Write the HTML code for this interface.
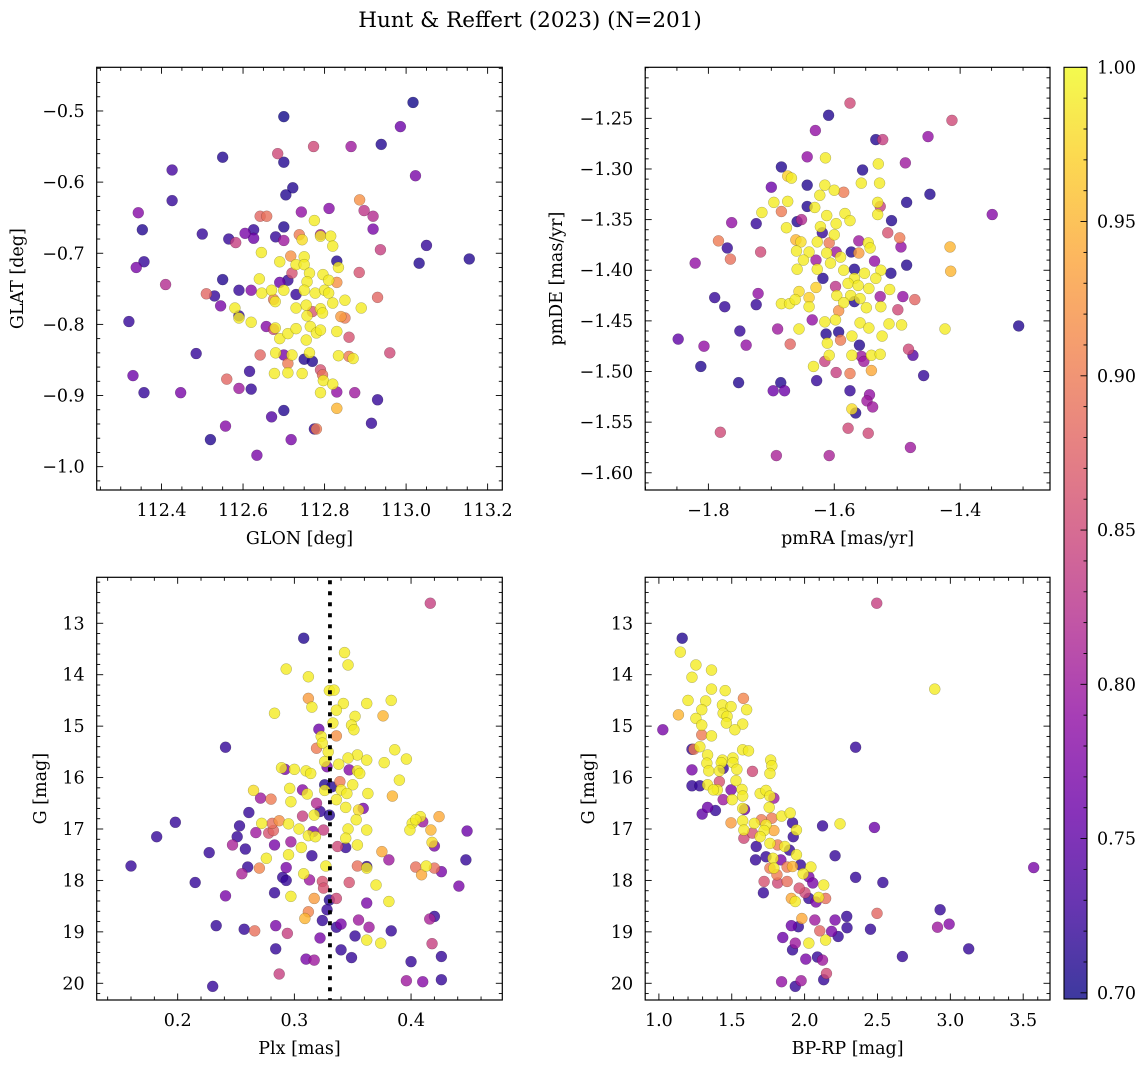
<!DOCTYPE html>
<html><head><meta charset="utf-8"><style>
html,body{margin:0;padding:0;background:#fff;}
svg{display:block;font-family:"DejaVu Serif","Liberation Serif",serif;}
</style></head><body>
<svg id="fig" width="1148" height="1067" viewBox="0 0 1148 1067" xmlns="http://www.w3.org/2000/svg">
<text x="530" y="27" text-anchor="middle" font-size="21.5">Hunt &amp; Reffert (2023) (N=201)</text>
</svg>
<script>
// ---- Panel A: GLON vs GLAT ----
const glonA=[113.017,112.70,112.986,112.939,112.773,112.865,112.685,112.55,112.70,112.426,113.023,112.722,112.705,112.426,112.886,112.811,112.343,112.743,112.897,112.919,112.642,112.658,112.775,112.353,112.919,112.50,112.70,112.605,112.626,112.626,112.565,112.582,112.68,112.70,112.738,112.745,112.79,112.79,112.815,112.82,113.05,113.155,113.032,112.937,112.357,112.338,112.41,112.645,112.69,112.717,112.75,112.73,112.75,112.83,112.834,112.72,112.885,112.55,112.64,112.763,112.796,112.69,112.71,112.757,112.81,112.83,112.59,112.62,112.51,112.53,112.545,112.646,112.67,112.70,112.675,112.679,112.73,112.75,112.777,112.80,112.81,112.93,112.82,112.85,112.89,112.58,112.59,112.59,112.32,112.62,112.73,112.755,112.77,112.79,112.795,112.757,112.85,112.84,112.657,112.675,112.679,112.69,112.71,112.73,112.765,112.78,112.79,112.755,112.83,112.86,112.96,112.485,112.642,112.68,112.70,112.71,112.72,112.75,112.77,112.763,112.834,112.86,112.87,112.33,112.56,112.616,112.677,112.71,112.745,112.79,112.795,112.797,112.82,112.357,112.447,112.59,112.62,112.79,112.83,112.874,112.93,112.83,112.70,112.67,112.915,112.557,112.775,112.78,112.52,112.718,112.634];
const glatA=[-0.488,-0.508,-0.522,-0.547,-0.550,-0.550,-0.560,-0.565,-0.572,-0.583,-0.591,-0.608,-0.618,-0.626,-0.625,-0.637,-0.643,-0.642,-0.640,-0.648,-0.648,-0.648,-0.654,-0.667,-0.666,-0.673,-0.663,-0.672,-0.667,-0.679,-0.680,-0.685,-0.677,-0.682,-0.674,-0.681,-0.674,-0.676,-0.676,-0.69,-0.689,-0.708,-0.714,-0.695,-0.712,-0.720,-0.744,-0.699,-0.712,-0.704,-0.705,-0.716,-0.716,-0.711,-0.720,-0.728,-0.727,-0.737,-0.736,-0.728,-0.73,-0.741,-0.738,-0.74,-0.738,-0.741,-0.752,-0.752,-0.757,-0.760,-0.774,-0.756,-0.752,-0.752,-0.765,-0.768,-0.758,-0.752,-0.756,-0.752,-0.756,-0.762,-0.77,-0.766,-0.777,-0.777,-0.791,-0.788,-0.796,-0.797,-0.777,-0.773,-0.782,-0.778,-0.784,-0.788,-0.791,-0.789,-0.803,-0.807,-0.805,-0.82,-0.813,-0.806,-0.803,-0.812,-0.808,-0.822,-0.81,-0.818,-0.840,-0.841,-0.843,-0.84,-0.843,-0.855,-0.843,-0.849,-0.852,-0.84,-0.844,-0.845,-0.848,-0.872,-0.877,-0.866,-0.869,-0.868,-0.869,-0.864,-0.871,-0.879,-0.884,-0.896,-0.896,-0.89,-0.891,-0.896,-0.895,-0.896,-0.906,-0.918,-0.921,-0.930,-0.939,-0.943,-0.947,-0.947,-0.962,-0.962,-0.984];
const probA=[0.70,0.70,0.76,0.71,0.85,0.80,0.85,0.71,0.71,0.73,0.77,0.71,0.71,0.72,0.92,0.78,0.78,0.79,0.83,0.82,0.88,0.89,0.99,0.71,0.77,0.72,0.71,0.77,0.72,0.76,0.72,0.84,0.72,0.80,0.9,0.98,0.8,0.99,0.99,0.99,0.72,0.71,0.71,0.84,0.72,0.77,0.82,0.99,0.99,0.92,0.99,0.99,0.99,0.71,0.99,0.86,0.86,0.71,0.99,0.99,0.99,0.76,0.72,0.99,0.99,0.92,0.72,0.78,0.88,0.72,0.77,0.99,0.99,0.99,0.9,0.99,0.72,0.99,0.99,0.99,0.99,0.88,0.99,0.99,0.99,0.99,0.99,0.72,0.72,0.99,0.99,0.99,0.86,0.99,0.99,0.99,0.9,0.93,0.78,0.85,0.99,0.99,0.99,0.99,0.99,0.99,0.99,0.99,0.99,0.86,0.85,0.72,0.88,0.99,0.77,0.9,0.99,0.71,0.71,0.99,0.99,0.9,0.99,0.76,0.88,0.72,0.99,0.99,0.99,0.86,0.89,0.99,0.99,0.72,0.77,0.8,0.72,0.99,0.79,0.8,0.72,0.95,0.71,0.74,0.72,0.78,0.72,0.9,0.71,0.77,0.77];
// ---- Panel B: pmRA vs pmDE ----
const pmraB=[-1.575,-1.609,-1.63,-1.413,-1.534,-1.523,-1.451,-1.643,-1.614,-1.684,-1.555,-1.530,-1.487,-1.674,-1.668,-1.70,-1.643,-1.615,-1.623,-1.60,-1.585,-1.557,-1.528,-1.448,-1.485,-1.696,-1.674,-1.715,-1.684,-1.643,-1.631,-1.612,-1.583,-1.531,-1.527,-1.531,-1.349,-1.763,-1.724,-1.659,-1.652,-1.676,-1.622,-1.597,-1.575,-1.509,-1.619,-1.60,-1.515,-1.784,-1.661,-1.653,-1.627,-1.608,-1.561,-1.546,-1.496,-1.494,-1.416,-1.770,-1.717,-1.66,-1.64,-1.612,-1.597,-1.573,-1.561,-1.543,-1.765,-1.821,-1.649,-1.629,-1.606,-1.59,-1.536,-1.485,-1.659,-1.627,-1.585,-1.568,-1.552,-1.526,-1.51,-1.415,-1.618,-1.568,-1.534,-1.598,-1.578,-1.562,-1.629,-1.656,-1.721,-1.545,-1.512,-1.79,-1.684,-1.671,-1.662,-1.64,-1.64,-1.596,-1.574,-1.568,-1.559,-1.527,-1.491,-1.472,-1.774,-1.724,-1.585,-1.549,-1.526,-1.499,-1.593,-1.598,-1.635,-1.615,-1.559,-1.545,-1.513,-1.493,-1.424,-1.307,-1.75,-1.69,-1.656,-1.613,-1.593,-1.59,-1.572,-1.524,-1.848,-1.807,-1.74,-1.67,-1.611,-1.56,-1.482,-1.475,-1.608,-1.572,-1.557,-1.541,-1.527,-1.615,-1.633,-1.553,-1.541,-1.812,-1.458,-1.597,-1.575,-1.752,-1.628,-1.685,-1.697,-1.679,-1.575,-1.544,-1.548,-1.539,-1.566,-1.572,-1.781,-1.578,-1.546,-1.479,-1.692,-1.608];
const pmdeB=[-1.235,-1.247,-1.262,-1.252,-1.271,-1.271,-1.268,-1.288,-1.289,-1.298,-1.301,-1.295,-1.294,-1.307,-1.309,-1.318,-1.316,-1.316,-1.326,-1.321,-1.323,-1.314,-1.314,-1.325,-1.333,-1.333,-1.332,-1.343,-1.342,-1.337,-1.338,-1.346,-1.344,-1.333,-1.337,-1.345,-1.345,-1.353,-1.354,-1.352,-1.350,-1.358,-1.357,-1.354,-1.351,-1.351,-1.363,-1.365,-1.363,-1.371,-1.37,-1.372,-1.372,-1.373,-1.371,-1.373,-1.368,-1.377,-1.377,-1.378,-1.382,-1.381,-1.382,-1.383,-1.382,-1.382,-1.383,-1.378,-1.389,-1.393,-1.39,-1.39,-1.393,-1.387,-1.391,-1.395,-1.399,-1.399,-1.4,-1.399,-1.403,-1.4,-1.403,-1.401,-1.408,-1.408,-1.408,-1.416,-1.413,-1.415,-1.417,-1.421,-1.423,-1.418,-1.419,-1.427,-1.433,-1.433,-1.429,-1.427,-1.436,-1.425,-1.425,-1.431,-1.428,-1.426,-1.426,-1.429,-1.436,-1.434,-1.432,-1.437,-1.436,-1.439,-1.44,-1.449,-1.449,-1.451,-1.452,-1.457,-1.453,-1.454,-1.458,-1.455,-1.46,-1.458,-1.458,-1.463,-1.461,-1.469,-1.465,-1.465,-1.468,-1.475,-1.474,-1.473,-1.472,-1.474,-1.478,-1.484,-1.484,-1.484,-1.485,-1.484,-1.483,-1.49,-1.495,-1.49,-1.499,-1.495,-1.504,-1.501,-1.502,-1.511,-1.509,-1.511,-1.519,-1.519,-1.519,-1.523,-1.529,-1.535,-1.541,-1.537,-1.56,-1.556,-1.561,-1.575,-1.583,-1.583];
const probB=[0.85,0.71,0.79,0.85,0.71,0.84,0.79,0.79,0.99,0.71,0.71,0.99,0.8,0.97,0.99,0.76,0.71,0.99,0.99,0.99,0.9,0.99,0.99,0.71,0.71,0.99,0.99,0.99,0.9,0.71,0.99,0.99,0.99,0.99,0.84,0.99,0.78,0.79,0.72,0.71,0.82,0.99,0.99,0.99,0.99,0.71,0.72,0.99,0.86,0.9,0.95,0.98,0.99,0.9,0.8,0.99,0.9,0.79,0.95,0.72,0.85,0.99,0.99,0.99,0.8,0.71,0.93,0.99,0.89,0.79,0.99,0.8,0.99,0.99,0.79,0.71,0.99,0.99,0.99,0.71,0.99,0.99,0.71,0.95,0.71,0.99,0.99,0.83,0.99,0.99,0.97,0.98,0.79,0.99,0.99,0.72,0.99,0.99,0.99,0.97,0.99,0.99,0.99,0.71,0.99,0.8,0.79,0.88,0.72,0.72,0.99,0.99,0.99,0.85,0.92,0.99,0.79,0.99,0.99,0.99,0.99,0.99,0.99,0.71,0.72,0.8,0.99,0.71,0.71,0.9,0.99,0.99,0.75,0.79,0.79,0.88,0.99,0.71,0.85,0.74,0.99,0.99,0.8,0.99,0.99,0.84,0.99,0.8,0.94,0.71,0.72,0.84,0.9,0.71,0.72,0.71,0.76,0.76,0.72,0.79,0.8,0.8,0.71,0.98,0.85,0.85,0.85,0.8,0.81,0.81];
// ---- Panel C: Plx vs G ----
const plxC=[0.4165,0.308,0.343,0.346,0.293,0.312,0.33,0.334,0.312,0.383,0.342,0.362,0.315,0.336,0.352,0.376,0.283,0.333,0.349,0.351,0.321,0.336,0.323,0.241,0.319,0.324,0.329,0.386,0.354,0.346,0.362,0.396,0.338,0.377,0.326,0.328,0.289,0.292,0.30,0.31,0.314,0.347,0.354,0.356,0.39,0.339,0.35,0.326,0.332,0.296,0.307,0.326,0.34,0.345,0.363,0.265,0.311,0.384,0.271,0.28,0.297,0.336,0.319,0.344,0.359,0.355,0.261,0.322,0.33,0.317,0.307,0.424,0.408,0.353,0.401,0.41,0.404,0.253,0.198,0.287,0.281,0.272,0.295,0.304,0.346,0.362,0.399,0.417,0.448,0.267,0.278,0.282,0.316,0.325,0.182,0.251,0.312,0.318,0.344,0.247,0.283,0.297,0.337,0.344,0.354,0.418,0.42,0.306,0.258,0.227,0.375,0.295,0.315,0.276,0.16,0.381,0.447,0.26,0.27,0.293,0.327,0.354,0.362,0.362,0.404,0.413,0.42,0.426,0.409,0.255,0.308,0.29,0.293,0.313,0.324,0.347,0.215,0.325,0.37,0.441,0.283,0.241,0.297,0.317,0.336,0.362,0.381,0.33,0.328,0.312,0.309,0.324,0.42,0.416,0.355,0.34,0.336,0.364,0.233,0.284,0.257,0.266,0.294,0.383,0.352,0.322,0.362,0.374,0.418,0.284,0.34,0.426,0.349,0.31,0.317,0.4,0.287,0.396,0.41,0.426,0.23];
const gmagC=[12.61,13.29,13.57,13.81,13.89,14.04,14.31,14.3,14.46,14.5,14.56,14.56,14.63,14.69,14.81,14.8,14.75,14.94,14.98,15.07,15.06,15.19,15.2,15.41,15.43,15.33,15.5,15.46,15.56,15.62,15.66,15.64,15.74,15.71,15.69,15.79,15.81,15.84,15.84,15.87,15.92,15.85,15.87,15.92,16.05,16.08,16.14,16.14,16.18,16.21,16.24,16.25,16.24,16.31,16.31,16.25,16.32,16.36,16.4,16.42,16.47,16.43,16.5,16.58,16.6,16.63,16.68,16.66,16.73,16.73,16.75,16.76,16.76,16.82,16.89,16.86,16.82,16.94,16.87,16.84,16.89,16.89,16.9,17.0,17.0,17.02,17.02,17.02,17.04,17.07,17.08,17.03,17.05,17.02,17.15,17.15,17.13,17.15,17.18,17.31,17.31,17.25,17.34,17.36,17.31,17.26,17.33,17.36,17.39,17.46,17.44,17.5,17.52,17.57,17.72,17.6,17.6,17.74,17.76,17.75,17.72,17.72,17.76,17.73,17.74,17.72,17.76,17.83,17.89,17.87,17.87,17.94,18.0,17.99,18.02,18.04,18.04,18.15,18.09,18.11,18.24,18.3,18.31,18.35,18.35,18.44,18.41,18.38,18.57,18.61,18.74,18.78,18.7,18.75,18.77,18.85,18.91,18.91,18.88,18.88,18.95,18.98,19.03,18.98,19.08,19.12,19.16,19.22,19.23,19.33,19.35,19.48,19.5,19.53,19.55,19.58,19.82,19.95,19.97,19.93,20.06];
const probC=[0.84,0.71,0.99,0.99,0.99,0.99,0.99,0.99,0.93,0.99,0.99,0.99,0.99,0.99,0.99,0.95,0.99,0.99,0.99,0.99,0.76,0.92,0.99,0.72,0.9,0.99,0.99,0.99,0.99,0.99,0.99,0.99,0.99,0.99,0.99,0.77,0.99,0.77,0.99,0.99,0.99,0.78,0.99,0.99,0.99,0.9,0.99,0.71,0.71,0.99,0.78,0.99,0.99,0.99,0.99,0.98,0.99,0.95,0.8,0.9,0.99,0.99,0.82,0.99,0.77,0.98,0.72,0.72,0.71,0.99,0.84,0.94,0.99,0.99,0.99,0.8,0.99,0.72,0.72,0.92,0.89,0.99,0.99,0.99,0.99,0.99,0.99,0.95,0.76,0.8,0.86,0.88,0.77,0.84,0.72,0.72,0.99,0.99,0.99,0.81,0.77,0.8,0.85,0.72,0.99,0.98,0.77,0.99,0.72,0.72,0.94,0.99,0.72,0.99,0.72,0.8,0.72,0.72,0.91,0.77,0.99,0.89,0.99,0.72,0.89,0.99,0.89,0.77,0.94,0.81,0.99,0.72,0.72,0.8,0.86,0.86,0.72,0.86,0.99,0.77,0.72,0.77,0.99,0.93,0.85,0.77,0.99,0.71,0.72,0.91,0.95,0.72,0.72,0.81,0.8,0.77,0.72,0.8,0.72,0.77,0.72,0.89,0.84,0.72,0.72,0.77,0.99,0.99,0.84,0.72,0.72,0.72,0.72,0.77,0.8,0.72,0.84,0.8,0.78,0.72,0.72];
// ---- Panel D: BP-RP vs G ----
const bprpD=[2.495,1.16,1.147,1.254,1.361,1.227,2.893,1.361,1.455,1.58,1.2,1.321,1.436,1.495,1.602,1.294,1.134,1.441,1.468,1.254,1.575,1.294,1.463,1.521,1.027,1.294,1.361,2.35,1.227,1.24,1.281,1.575,1.615,1.334,1.436,1.508,1.767,1.329,1.428,1.508,1.775,1.227,1.342,1.415,1.535,1.642,1.762,1.441,1.227,1.281,1.334,1.415,1.401,1.374,1.495,1.529,1.57,1.575,1.695,1.735,1.762,1.789,1.441,1.503,1.334,1.388,1.297,1.575,1.588,1.757,1.775,1.842,1.901,1.917,1.495,1.575,1.655,1.703,1.735,1.583,1.722,1.789,1.944,2.123,2.243,2.479,1.642,1.695,1.583,1.922,1.668,1.762,1.815,1.864,1.896,1.944,1.735,1.663,2.209,1.783,1.837,1.762,1.789,1.88,1.917,1.971,2.043,3.572,1.81,1.99,2.029,2.35,2.537,1.722,1.88,1.815,2.056,2.131,1.963,1.717,2.003,2.029,2.078,2.144,2.096,1.909,1.936,2.93,2.497,1.981,2.07,2.289,2.209,1.909,1.957,2.104,2.185,2.291,2.452,2.912,2.992,1.85,1.936,2.029,2.144,2.23,1.917,3.126,2.008,2.088,2.123,2.671,2.15,1.842,1.976,2.131,1.936];
const gmagD=[12.61,13.29,13.56,13.81,13.91,14.05,14.28,14.28,14.31,14.46,14.5,14.51,14.59,14.62,14.68,14.68,14.78,14.75,14.81,14.85,14.96,14.98,14.94,15.07,15.07,15.17,15.19,15.41,15.45,15.45,15.4,15.46,15.48,15.56,15.66,15.62,15.66,15.72,15.71,15.71,15.77,15.85,15.87,15.87,15.84,15.88,15.92,15.82,16.16,16.16,16.14,16.08,16.24,16.24,16.24,16.06,16.23,16.36,16.31,16.25,16.36,16.4,16.43,16.43,16.58,16.64,16.71,16.6,16.62,16.58,16.79,16.75,16.69,16.88,16.88,16.84,16.89,16.82,16.92,17.02,17.03,17.03,17.02,16.94,16.9,16.97,17.08,17.15,17.18,17.15,17.34,17.28,17.31,17.34,17.41,17.5,17.54,17.6,17.52,17.57,17.6,17.76,17.76,17.74,17.73,17.7,17.74,17.75,17.89,17.87,17.93,17.94,18.04,18.02,18.02,18.05,18.05,18.09,18.15,18.24,18.24,18.35,18.42,18.35,18.33,18.35,18.41,18.57,18.64,18.74,18.77,18.7,18.77,18.88,18.9,18.98,18.99,18.92,18.95,18.91,18.85,19.11,19.22,19.22,19.16,19.09,19.35,19.33,19.53,19.49,19.55,19.48,19.81,19.97,19.95,19.93,20.06];
const probD=[0.84,0.71,0.99,0.99,0.99,0.99,0.99,0.99,0.99,0.91,0.99,0.99,0.99,0.99,0.99,0.99,0.95,0.99,0.99,0.99,0.99,0.99,0.99,0.99,0.77,0.9,0.99,0.72,0.72,0.9,0.99,0.99,0.99,0.99,0.99,0.99,0.99,0.99,0.99,0.99,0.99,0.77,0.99,0.99,0.99,0.85,0.99,0.72,0.72,0.72,0.99,0.86,0.99,0.99,0.77,0.99,0.99,0.99,0.99,0.99,0.99,0.8,0.8,0.99,0.76,0.72,0.75,0.99,0.76,0.99,0.9,0.99,0.99,0.72,0.93,0.99,0.99,0.9,0.99,0.99,0.99,0.94,0.99,0.72,0.99,0.76,0.86,0.99,0.85,0.72,0.72,0.99,0.9,0.99,0.72,0.99,0.72,0.72,0.72,0.99,0.77,0.9,0.99,0.9,0.95,0.72,0.99,0.77,0.9,0.99,0.77,0.72,0.72,0.86,0.89,0.85,0.77,0.99,0.86,0.72,0.85,0.72,0.77,0.89,0.99,0.94,0.99,0.72,0.88,0.94,0.8,0.72,0.77,0.76,0.72,0.88,0.77,0.72,0.72,0.8,0.78,0.76,0.8,0.99,0.99,0.72,0.72,0.72,0.77,0.72,0.8,0.72,0.85,0.79,0.8,0.72,0.72];
// ---- Tick labels ----
const ticksAx=[112.4,112.6,112.8,113.0,113.2];
const ticksAy=[-1.0,-0.9,-0.8,-0.7,-0.6,-0.5];
const ticksBx=[-1.8,-1.6,-1.4];
const ticksBy=[-1.60,-1.55,-1.50,-1.45,-1.40,-1.35,-1.30,-1.25];
const ticksCx=[0.2,0.3,0.4];
const ticksGy=[13,14,15,16,17,18,19,20];
const ticksDx=[1.0,1.5,2.0,2.5,3.0,3.5];
const ticksCbar=[0.70,0.75,0.80,0.85,0.90,0.95,1.00];
const plxRef=[0.3305];

const NS="http://www.w3.org/2000/svg";
const svg=document.getElementById('fig');
const FS=17.5;
function mk(tag,attrs,parent){const e=document.createElementNS(NS,tag);for(const k in attrs)e.setAttribute(k,attrs[k]);(parent||svg).appendChild(e);return e;}
const PL=[[0,[13,8,135]],[0.1,[65,4,157]],[0.2,[106,0,168]],[0.3,[143,13,164]],[0.4,[177,42,144]],[0.5,[204,71,120]],[0.6,[225,100,98]],[0.7,[242,132,75]],[0.8,[252,166,54]],[0.9,[252,206,37]],[1,[240,249,33]]];
const VMIN=0.698,VMAX=1.0;
function plasma(t){t=Math.max(0,Math.min(1,t));for(let i=1;i<PL.length;i++){if(t<=PL[i][0]){const a=PL[i-1],b=PL[i];const f=(t-a[0])/(b[0]-a[0]);return 'rgb('+[0,1,2].map(j=>Math.round(a[1][j]+f*(b[1][j]-a[1][j]))).join(',')+')';}}return 'rgb(240,249,33)';}
const MINUS='\u2212';
function fmt(v,d){const s=Math.abs(v).toFixed(d);return (v<0?MINUS:'')+s;}

function panel(cfg){
  const g=mk('g',{});
  
  
  const {x0,x1,y0,y1,xmin,xmax,ytop,ybot}=cfg;
  const sx=v=>x0+(v-xmin)/(xmax-xmin)*(x1-x0);
  const sy=v=>y0+(v-ytop)/(ybot-ytop)*(y1-y0);
  const clipId='clip-'+cfg.name;
  const cp=mk('clipPath',{id:clipId},g);mk('rect',{x:x0,y:y0,width:x1-x0,height:y1-y0},cp);
  const pts=mk('g',{'clip-path':'url(#'+clipId+')'},g);
  
  
  const idx=cfg.xs.map((_,i)=>i).sort((a,b)=>cfg.ps[a]-cfg.ps[b]);
  idx.forEach(i=>{
    const c=mk('circle',{cx:sx(cfg.xs[i]).toFixed(2),cy:sy(cfg.ys[i]).toFixed(2),r:5.5,fill:plasma((cfg.ps[i]-VMIN)/(VMAX-VMIN)),'fill-opacity':0.8,stroke:'rgba(0,0,0,0.3)','stroke-width':0.5},pts);
    
    
  });
  if(cfg.vline){cfg.vline.forEach(v=>{const l=mk('line',{x1:sx(v),x2:sx(v),y1:y0+3,y2:y1,stroke:'#000','stroke-width':3.8,'stroke-dasharray':'4 7'},g);
    
    });}
  const tg=mk('g',{stroke:'#000','stroke-width':0.9},g);
  const eps=1e-9;
  function isMajor(v,arr){return arr.some(a=>Math.abs(a-v)<1e-6);}
  const lo=Math.min(xmin,xmax),hi=Math.max(xmin,xmax);
  for(let v=Math.ceil(lo/cfg.xminor-eps)*cfg.xminor;v<=hi+eps;v+=cfg.xminor){
    const vv=Math.round(v*1e6)/1e6;const L=isMajor(vv,cfg.xt)?6.5:3.5;const X=sx(vv);
    mk('line',{x1:X,x2:X,y1:y1,y2:y1-L},tg);mk('line',{x1:X,x2:X,y1:y0,y2:y0+L},tg);}
  const ylo=Math.min(ytop,ybot),yhi=Math.max(ytop,ybot);
  for(let v=Math.ceil(ylo/cfg.yminor-eps)*cfg.yminor;v<=yhi+eps;v+=cfg.yminor){
    const vv=Math.round(v*1e6)/1e6;const L=isMajor(vv,cfg.yt)?6.5:3.5;const Y=sy(vv);
    mk('line',{x1:x0,x2:x0+L,y1:Y,y2:Y},tg);mk('line',{x1:x1,x2:x1-L,y1:Y,y2:Y},tg);}
  const frame=mk('rect',{x:x0,y:y0,width:x1-x0,height:y1-y0,fill:'none',stroke:'#000','stroke-width':1.2},g);
  
  
  cfg.xt.forEach(v=>{const t=mk('text',{x:sx(v),y:y1+26,'text-anchor':'middle','font-size':FS},g);t.textContent=fmt(v,cfg.xd);
    
    });
  cfg.yt.forEach(v=>{const t=mk('text',{x:x0-12,y:sy(v)+6,'text-anchor':'end','font-size':FS},g);t.textContent=fmt(v,cfg.yd);
    
    });
  const xl=mk('text',{x:(x0+x1)/2,y:y1+54,'text-anchor':'middle','font-size':FS},g);xl.textContent=cfg.xlabel;
  
  
  const yx=cfg.ylabelX,yy=(y0+y1)/2;
  const yl=mk('text',{x:yx,y:yy,'text-anchor':'middle','font-size':FS,transform:'rotate(-90 '+yx+' '+yy+')'},g);yl.textContent=cfg.ylabel;
  
  
}

panel({name:'glon-glat-panel',x0:96.7,x1:502.3,y0:67.3,y1:490,xmin:112.241,xmax:113.236,ytop:-0.4386,ybot:-1.0328,xs:glonA,ys:glatA,ps:probA,xt:ticksAx,yt:ticksAy,xminor:0.05,yminor:0.02,xd:1,yd:1,xlabel:'GLON [deg]',ylabel:'GLAT [deg]',ylabelX:23});
panel({name:'pm-panel',x0:645.2,x1:1050,y0:67.3,y1:490,xmin:-1.9004,xmax:-1.2572,ytop:-1.1996,ybot:-1.617,xs:pmraB,ys:pmdeB,ps:probB,xt:ticksBx,yt:ticksBy,xminor:0.05,yminor:0.01,xd:1,yd:2,xlabel:'pmRA [mas/yr]',ylabel:'pmDE [mas/yr]',ylabelX:562});
panel({name:'plx-g-panel',x0:96.7,x1:502.3,y0:577.3,y1:1000,xmin:0.1306,xmax:0.4782,ytop:12.106,ybot:20.325,xs:plxC,ys:gmagC,ps:probC,xt:ticksCx,yt:ticksGy,xminor:0.02,yminor:0.2,xd:1,yd:0,xlabel:'Plx [mas]',ylabel:'G [mag]',ylabelX:46,vline:plxRef});
panel({name:'cmd-panel',x0:645.2,x1:1050,y0:577.3,y1:1000,xmin:0.906,xmax:3.684,ytop:12.106,ybot:20.325,xs:bprpD,ys:gmagD,ps:probD,xt:ticksDx,yt:ticksGy,xminor:0.1,yminor:0.2,xd:1,yd:0,xlabel:'BP-RP [mag]',ylabel:'G [mag]',ylabelX:594});

// colorbar
(function(){
  const cx0=1064,cx1=1087,cy0=67.3,cy1=999;
  const cg=mk('g',{});
  
  
  const defs=mk('defs',{},cg);
  const lg=mk('linearGradient',{id:'cbgrad',x1:0,y1:1,x2:0,y2:0},defs);
  PL.forEach(s=>mk('stop',{offset:s[0],'stop-color':plasma(s[0]),'stop-opacity':0.8},lg));
  mk('rect',{x:cx0,y:cy0,width:cx1-cx0,height:cy1-cy0,fill:'url(#cbgrad)'},cg);
  const sy=v=>cy1-(v-VMIN)/(VMAX-VMIN)*(cy1-cy0);
  for(let k=70;k<=100;k++){const v=k/100;const Y=sy(v);const L=(k%5===0)?6.5:3.5;mk('line',{x1:cx1,x2:cx1-L,y1:Y,y2:Y,stroke:'#000','stroke-width':0.9},cg);}
  mk('rect',{x:cx0,y:cy0,width:cx1-cx0,height:cy1-cy0,fill:'none',stroke:'#000','stroke-width':1.1},cg);
  ticksCbar.forEach(v=>{const t=mk('text',{x:1097,y:sy(v)+6,'font-size':FS},cg);t.textContent=v.toFixed(2);
    
    });
})();
</script>
</body></html>
